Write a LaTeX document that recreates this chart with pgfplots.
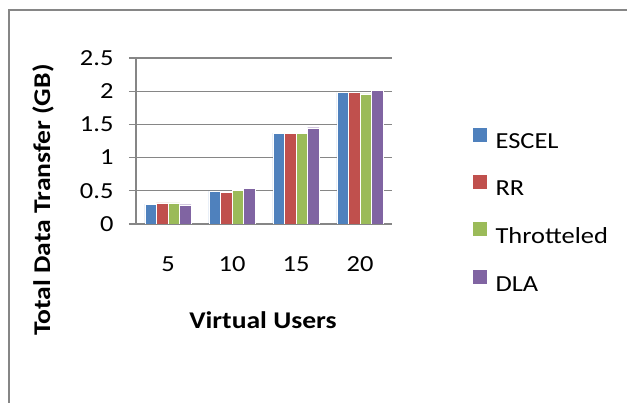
\documentclass[border=0pt]{standalone}
\usepackage{pgfplots}
\pgfplotsset{compat=1.18}
\usepackage{fontspec}
\setmainfont{Carlito}[FakeStretch=1.15]
\definecolor{cA}{HTML}{4F81BD}
\definecolor{cB}{HTML}{C0504D}
\definecolor{cC}{HTML}{9BBB59}
\definecolor{cD}{HTML}{8064A2}
\definecolor{gr}{HTML}{868686}
\newcommand\fs{\fontsize{23bp}{27bp}\selectfont}
\newcommand\fl{\fontsize{24bp}{28bp}\selectfont}
\begin{document}
\begin{tikzpicture}
\useasboundingbox (0,0) rectangle (627bp,403bp);
\draw[gr, line width=1.1bp] (9bp,-20bp) -- (9bp,393bp) -- (660bp,393bp);
\begin{axis}[
  at={(136bp,179bp)}, anchor=south west,
  scale only axis, width=256bp, height=166bp,
  xmin=-0.5, xmax=3.5, ymin=0, ymax=2.5,
  axis x line*=bottom, axis y line*=left,
  axis line style={gr, line width=1.1bp},
  ybar=0pt, bar width=11.6bp,
  ytick={0,0.5,1,1.5,2,2.5},
  ymajorgrids, grid style={gr, line width=1.1bp},
  tick align=outside,
  major tick length=7bp,
  tick style={gr, line width=1.1bp},
  xtick={0,1,2,3}, xticklabels={5,10,15,20},
  x tick style={draw=none},
  extra x ticks={-0.5,0.5,1.5,2.5,3.5},
  extra x tick labels={},
  extra x tick style={tick style={gr, line width=1.1bp}, major tick length=9bp, grid=none},
  /pgf/number format/assume math mode=true,
  ticklabel style={font=\fs},
  yticklabel style={xshift=-12bp},
  xticklabel style={yshift=-22bp},
  label style={font=\fl\bfseries},
  xlabel={Virtual Users},
  xlabel style={at={(axis description cs:0.496,-0.578)}, anchor=center},
  ylabel={Total Data Transfer (GB)},
  ylabel style={at={(axis description cs:-0.363,0.145)}, anchor=center, rotate=0},
  legend style={at={(axis description cs:1.3125,0.087)}, anchor=west, draw=none, fill=none,
    font=\fs, row sep=24bp, column sep=8bp, inner sep=0pt,
    nodes={inner sep=0pt, anchor=west}},
  legend cell align=left,
  legend image code/.code={\fill[#1] (0bp,0bp) rectangle (15bp,15bp);},
]
\addplot[fill=cA, draw=white, line width=0.4pt] coordinates {(0,0.30) (1,0.50) (2,1.37) (3,1.98)};
\addplot[fill=cB, draw=white, line width=0.4pt] coordinates {(0,0.32) (1,0.48) (2,1.36) (3,1.98)};
\addplot[fill=cC, draw=white, line width=0.4pt] coordinates {(0,0.32) (1,0.51) (2,1.37) (3,1.96)};
\addplot[fill=cD, draw=white, line width=0.4pt] coordinates {(0,0.29) (1,0.54) (2,1.45) (3,2.01)};
\legend{ESCEL,RR,Throtteled,DLA}
\end{axis}
\end{tikzpicture}
\end{document}
